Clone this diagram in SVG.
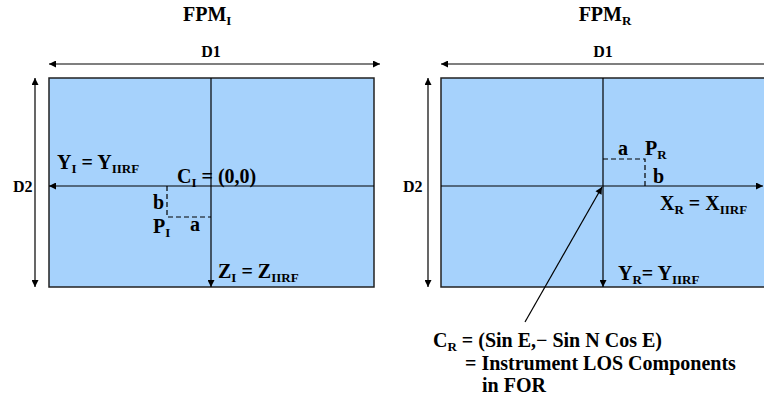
<svg xmlns="http://www.w3.org/2000/svg" width="764" height="403" viewBox="0 0 764 403">
<defs>
<marker id="ah" viewBox="0 0 10 10" refX="10" refY="5" markerWidth="8" markerHeight="7" markerUnits="userSpaceOnUse" orient="auto-start-reverse">
<path d="M0,0 L10,5 L0,10 z" fill="#000"/>
</marker>
<style>
.t{font-size:20px}
.d{font-size:16px}
.l{font-size:20px}
.s{font-size:13px}
.ax{stroke:#000;stroke-width:1.2;fill:none}
.ds{stroke:#000;stroke-width:1.2;fill:none;stroke-dasharray:5,3}
.fp{fill:#A6D2FC;stroke:#222;stroke-width:1.5}
</style>
</defs>
<rect width="764" height="403" fill="#fff"/>

<g id="fpmI" font-family="Liberation Serif, DejaVu Serif, serif" font-weight="bold">
<rect class="fp" x="49" y="78" width="325" height="209"/>
<text class="t" x="183" y="21">FPM<tspan class="s" dy="4">I</tspan></text>
<text class="d" x="211" y="57" text-anchor="middle">D1</text>
<text class="d" x="13" y="192">D2</text>
<text class="l" x="57" y="169">Y<tspan class="s" dy="4">I</tspan><tspan dy="-4"> = Y</tspan><tspan class="s" dy="4">IIRF</tspan></text>
<text class="l" x="177" y="183">C<tspan class="s" dy="4">I</tspan><tspan dy="-4"> = (0,0)</tspan></text>
<text class="l" x="153" y="209">b</text>
<text class="l" x="153" y="233">P<tspan class="s" dy="4">I</tspan></text>
<text class="l" x="190" y="231">a</text>
<text class="l" x="218" y="278">Z<tspan class="s" dy="4">I</tspan><tspan dy="-4"> = Z</tspan><tspan class="s" dy="4">IIRF</tspan></text>
</g>

<g id="fpmR" font-family="Liberation Serif, DejaVu Serif, serif" font-weight="bold">
<rect class="fp" x="441" y="78" width="330" height="209"/>
<text class="t" x="605" y="21" text-anchor="middle">FPM<tspan class="s" dy="4">R</tspan></text>
<text class="d" x="603" y="57" text-anchor="middle">D1</text>
<text class="d" x="403" y="192">D2</text>
<text class="l" x="618" y="155">a</text>
<text class="l" x="645" y="155">P<tspan class="s" dy="4">R</tspan></text>
<text class="l" x="653" y="183">b</text>
<text class="l" x="660" y="210">X<tspan class="s" dy="4">R</tspan><tspan dy="-4"> = X</tspan><tspan class="s" dy="4">IIRF</tspan></text>
<text class="l" x="618" y="280">Y<tspan class="s" dy="4">R</tspan><tspan dy="-4">= Y</tspan><tspan class="s" dy="4">IIRF</tspan></text>
</g>

<g id="cr-label" font-family="Liberation Serif, DejaVu Serif, serif" font-weight="bold">
<text class="l" x="433" y="347">C<tspan class="s" dy="4">R</tspan><tspan dy="-4"> = (Sin E,− Sin N Cos E)</tspan></text>
<text class="l" x="465" y="370">= Instrument LOS Components</text>
<text class="l" x="482" y="392">in FOR</text>
</g>

<g id="connectors">
<line class="ax" x1="49" y1="64" x2="380" y2="64" marker-start="url(#ah)" marker-end="url(#ah)"/>
<line class="ax" x1="35" y1="78" x2="35" y2="287" marker-start="url(#ah)" marker-end="url(#ah)"/>
<line class="ax" x1="374" y1="186" x2="49" y2="186" marker-end="url(#ah)"/>
<line class="ax" x1="211" y1="78" x2="211" y2="287" marker-end="url(#ah)"/>
<polyline class="ds" points="167,186 167,217 211,217"/>

<line class="ax" x1="770" y1="64" x2="441" y2="64" marker-end="url(#ah)"/>
<line class="ax" x1="428" y1="78" x2="428" y2="287" marker-start="url(#ah)" marker-end="url(#ah)"/>
<line class="ax" x1="441" y1="186" x2="763" y2="186" marker-end="url(#ah)"/>
<line class="ax" x1="603" y1="78" x2="603" y2="287" marker-end="url(#ah)"/>
<polyline class="ds" points="603,159 645,159 645,186"/>
<line class="ax" x1="525" y1="322" x2="602" y2="187" marker-end="url(#ah)"/>
</g>
</svg>
